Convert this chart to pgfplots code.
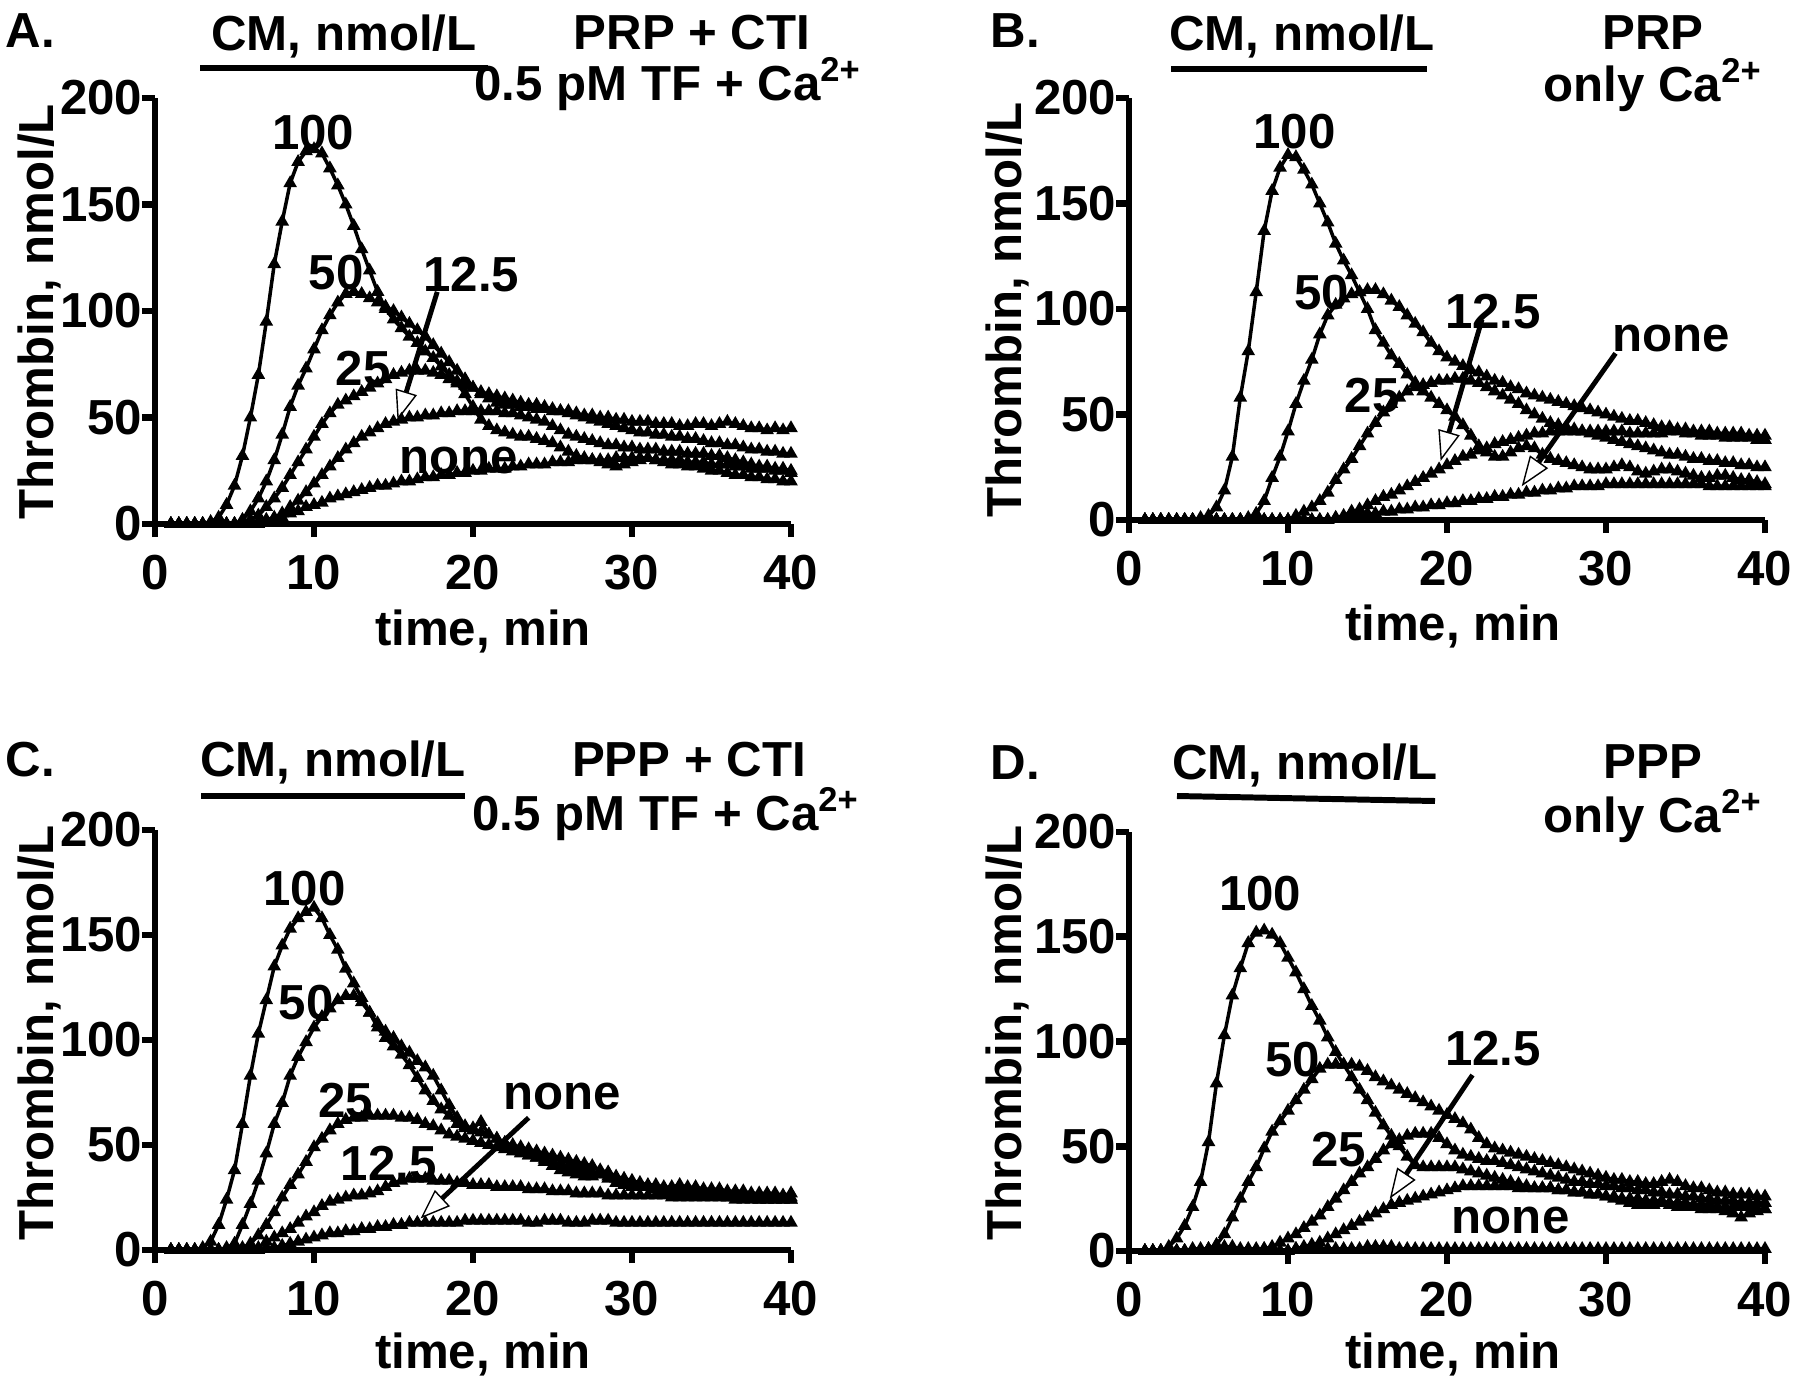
\documentclass[border=0pt]{standalone}
\usepackage{fontspec}
\setmainfont{Liberation Sans}
\usepackage{pgfplots}
\usepackage{pgfplotstable}
\pgfplotsset{compat=1.18}
\usetikzlibrary{arrows.meta}

\newcommand{\fs}{\fontsize{14}{16}\selectfont\bfseries}

% columns: t, CM=100, 50, 25, 12.5, none
\pgfplotstableread{
t a b c d e
1 0 0 0 0 0
1.5 0 0 0 0 0
2 0 0 0 0 0
2.5 0 0 0 0 0
3 0 0 0 0 0
3.5 1 0 0 0 0
4 3 0 0 0 0
4.5 9 0 0 0 0
5 18 0 0 0 0
5.5 32 2 1 0 0
6 50 6 2 0 0
6.5 70 12 4 1 0
7 95 20 8 2 1
7.5 122 30 12 3 2
8 142 42 17 5 3
8.5 160 55 23 8 5
9 170 65 29 11 6
9.5 175 73 35 15 8
10 176 82 41 19 9
10.5 174 91 47 23 10
11 167 98 52 27 12
11.5 159 104 56 31 13
12 150 108 58 35 14
12.5 140 109 60 38 15
13 129 108 62 41 16
13.5 119 106 64 43 17
14 109 104 66 45 18
14.5 101 102 68 47 18
15 96 100 70 48 19
15.5 92 97 71 49 20
16 88 94 72 50 20
16.5 85 91 72 50 21
17 81 88 72 51 22
17.5 78 84 71 51 22
18 74 80 70 52 23
18.5 70 76 68 52 23
19 66 72 67 53 24
19.5 61 68 65 53 24
20 55 64 64 53 25
20.5 49 61 62 53 25
21 46 59 61 53 26
21.5 44 57 60 53 26
22 43 56 59 52 26
22.5 42 56 58 52 27
23 41 55 57 51 27
23.5 41 55 56 50 28
24 40 54 56 49 28
24.5 39 54 55 48 28
25 38 53 54 46 29
25.5 36 53 53 44 29
26 34 52 53 42 29
26.5 32 51 52 41 30
27 31 50 51 40 30
27.5 30 49 51 39 30
28 29 48 50 38 30
28.5 28 47 50 37 30
29 27 46 49 37 31
29.5 28 45 49 36 31
30 29 44 48 36 31
30.5 30 43 48 35 31
31 31 43 48 35 31
31.5 30 42 47 35 30
32 29 42 47 34 30
32.5 28 41 47 34 30
33 28 41 46 34 30
33.5 27 40 46 33 29
34 27 40 47 33 29
34.5 26 39 47 33 29
35 25 38 46 32 28
35.5 25 38 47 32 28
36 24 37 48 31 28
36.5 23 37 47 30 27
37 23 36 46 29 27
37.5 22 35 45 28 26
38 22 35 45 27 26
38.5 21 34 44 27 26
39 21 34 45 26 25
39.5 20 33 44 26 25
40 20 33 45 25 24
}\tabA

\pgfplotstableread{
t a b c d e
1 0 0 0 0 0
1.5 0 0 0 0 0
2 0 0 0 0 0
2.5 0 0 0 0 0
3 0 0 0 0 0
3.5 0 0 0 0 0
4 0 0 0 0 0
4.5 1 0 0 0 0
5 2 0 0 0 0
5.5 6 0 0 0 0
6 14 0 0 0 0
6.5 30 0 0 0 0
7 58 0 0 0 0
7.5 80 1 0 0 0
8 108 3 0 0 0
8.5 137 9 0 0 0
9 156 20 0 0 0
9.5 167 30 0 0 0
10 173 42 0 0 0
10.5 172 55 2 0 0
11 166 66 4 0 0
11.5 159 76 6 0 0
12 150 88 9 0 0
12.5 141 97 13 0 0
13 131 102 19 1 1
13.5 123 105 24 2 1
14 116 107 29 4 2
14.5 108 108 35 5 2
15 100 109 41 7 3
15.5 90 109 46 9 3
16 84 107 51 11 4
16.5 78 104 55 12 4
17 74 101 58 14 5
17.5 69 97 61 16 5
18 65 93 63 18 6
18.5 61 89 64 20 6
19 58 84 65 22 7
19.5 55 80 66 24 7
20 52 77 66 26 8
20.5 49 75 67 28 8
21 45 73 67 30 9
21.5 40 71 66 31 9
22 35 70 65 33 10
22.5 32 68 63 34 10
23 30 66 61 36 11
23.5 30 65 59 37 11
24 32 63 57 38 12
24.5 34 62 55 39 12
25 35 60 52 40 13
25.5 34 59 50 41 13
26 31 58 48 41 14
26.5 29 57 46 42 14
27 28 56 45 42 15
27.5 27 55 44 42 15
28 26 54 43 42 16
28.5 25 53 42 42 16
29 24 52 41 42 16
29.5 24 51 40 42 16
30 24 50 39 42 17
30.5 25 49 38 42 17
31 26 48 37 42 17
31.5 25 47 36 41 17
32 23 47 35 41 17
32.5 22 46 34 41 17
33 23 45 33 41 17
33.5 24 44 32 41 17
34 24 44 31 42 17
34.5 23 43 31 42 17
35 22 43 30 41 17
35.5 21 42 29 41 17
36 20 42 29 40 17
36.5 20 42 28 40 16
37 21 41 28 40 16
37.5 21 41 27 39 16
38 20 41 27 39 16
38.5 19 41 26 39 16
39 19 40 26 39 16
39.5 18 40 25 38 16
40 17 40 25 38 16
}\tabB

\pgfplotstableread{
t a b c d e
1 0 0 0 0 0
1.5 0 0 0 0 0
2 0 0 0 0 0
2.5 0 0 0 0 0
3 1 0 0 0 0
3.5 4 0 0 0 0
4 12 0 0 0 0
4.5 24 1 0 0 0
5 38 3 0 0 0
5.5 60 12 1 0 0
6 83 22 3 0 0
6.5 103 33 7 1 0
7 119 46 12 4 1
7.5 135 60 18 6 1
8 145 70 25 8 2
8.5 153 83 31 10 3
9 158 92 36 13 4
9.5 161 99 42 16 5
10 163 106 49 18 6
10.5 158 111 53 21 7
11 150 115 57 23 8
11.5 143 119 60 24 8
12 134 121 62 25 9
12.5 127 121 63 26 9
13 120 118 63 26 10
13.5 113 113 64 27 10
14 106 108 64 28 11
14.5 101 104 64 30 11
15 97 101 64 32 12
15.5 93 97 63 33 12
16 88 94 63 34 13
16.5 82 90 62 34 13
17 76 87 60 34 13
17.5 71 83 59 33 13
18 67 76 57 33 13
18.5 64 69 55 33 13
19 60 63 54 32 13
19.5 58 59 53 32 14
20 57 58 52 31 14
20.5 56 61 51 31 14
21 55 55 50 31 14
21.5 53 53 49 30 14
22 51 51 48 30 14
22.5 49 50 47 30 14
23 47 49 46 30 14
23.5 45 48 45 29 13
24 44 47 44 29 13
24.5 42 46 43 29 14
25 40 45 42 28 14
25.5 38 44 41 28 14
26 37 43 40 28 13
26.5 36 42 39 27 13
27 35 41 38 27 13
27.5 35 40 37 27 14
28 36 38 36 27 14
28.5 34 37 35 26 14
29 32 35 34 26 13
29.5 31 34 33 26 13
30 30 33 32 26 13
30.5 30 32 31 26 13
31 30 31 30 26 13
31.5 29 31 29 26 13
32 29 30 28 26 13
32.5 29 30 28 25 13
33 30 31 27 25 13
33.5 29 30 27 25 13
34 28 30 27 25 13
34.5 28 29 26 25 13
35 28 29 26 25 13
35.5 27 29 26 25 13
36 27 28 25 25 13
36.5 27 28 25 24 13
37 26 28 25 24 13
37.5 26 27 25 24 13
38 26 27 24 24 13
38.5 25 27 24 24 13
39 25 27 24 24 13
39.5 25 26 24 24 13
40 25 27 24 24 13
}\tabC

\pgfplotstableread{
t a b c d e
1 0 0 0 0 0
1.5 0 0 0 0 0
2 0 0 0 0 0
2.5 2 0 0 0 0
3 6 0 0 0 0
3.5 12 0 0 0 0
4 21 0 0 0 1
4.5 33 0 0 0 1
5 52 1 0 0 1
5.5 80 3 0 0 1
6 103 8 0 0 2
6.5 122 16 0 0 2
7 135 25 0 0 1
7.5 147 33 0 0 1
8 152 40 0 0 1
8.5 153 49 1 0 1
9 151 57 2 0 1
9.5 147 62 4 0 0
10 140 67 6 0 0
10.5 133 72 8 1 1
11 125 77 11 2 1
11.5 117 82 14 3 1
12 110 87 17 4 1
12.5 102 89 21 6 1
13 95 89 25 8 1
13.5 89 89 29 10 1
14 83 89 33 12 1
14.5 77 88 37 14 1
15 72 86 40 16 2
15.5 66 83 44 18 2
16 60 81 48 20 2
16.5 55 79 51 22 2
17 50 77 53 23 1
17.5 45 75 55 24 1
18 41 73 56 25 1
18.5 40 71 56 26 1
19 40 69 56 27 1
19.5 40 67 54 28 1
20 40 65 51 29 1
20.5 40 63 48 30 1
21 39 61 46 31 1
21.5 38 58 45 31 1
22 37 54 44 31 1
22.5 36 51 43 31 1
23 35 49 43 31 1
23.5 34 48 42 31 1
24 33 47 41 31 1
24.5 32 46 40 30 1
25 31 45 39 30 1
25.5 30 44 38 30 1
26 30 43 37 30 1
26.5 30 42 36 30 1
27 29 41 35 29 1
27.5 29 40 34 29 1
28 28 39 33 28 1
28.5 28 38 33 28 1
29 27 37 32 27 1
29.5 27 36 32 27 1
30 26 35 31 26 1
30.5 25 34 31 26 1
31 24 34 30 25 1
31.5 23 33 30 25 1
32 22 33 29 25 1
32.5 22 32 29 24 1
33 22 32 28 24 1
33.5 23 33 28 24 1
34 22 34 27 23 1
34.5 21 33 27 23 1
35 21 31 26 23 1
35.5 21 30 26 22 1
36 20 30 25 22 1
36.5 20 29 25 22 1
37 20 28 24 21 1
37.5 19 28 24 21 1
38 18 27 24 21 1
38.5 16 27 23 21 1
39 18 27 23 21 1
39.5 19 26 23 20 1
40 20 26 23 20 1
}\tabD

\pgfplotsset{
  panel/.style={
    scale only axis, width=6.36cm,
    xmin=0, xmax=40, ymin=0, ymax=200,
    axis x line*=bottom, axis y line*=left,
    axis line style={line width=1.9pt, -},
    xtick={0,10,20,30,40}, ytick={0,50,100,150,200},
    tick align=outside, major tick length=0.13cm,
    tick style={line width=1.9pt, black},
    tick label style={font=\fs},
    /pgf/number format/assume math mode=true,
    xticklabel style={anchor=north, inner sep=0pt, yshift=-0.17cm},
    yticklabel style={anchor=east, inner sep=0pt, xshift=0.01cm},
    clip=false, anchor=origin,
  },
  curve/.style={black, line width=1.0pt, mark=triangle*, mark size=1.25pt,
    mark options={solid, fill=black}},
}
\tikzset{
  lab/.style={font=\fs, inner sep=0pt},
  arr/.style={line width=1.4pt, -{Triangle[length=0.30cm, width=0.22cm, fill=white, line width=0.4pt]}},
}

\begin{document}
\begin{tikzpicture}
\useasboundingbox (0,0) rectangle (18,-13.85);

% ---------------- Panel A
\begin{axis}[panel, at={(1.55cm,-5.24cm)}, height=4.26cm]
\addplot[curve] table[x=t, y=e] {\tabA};
\addplot[curve] table[x=t, y=d] {\tabA};
\addplot[curve] table[x=t, y=c] {\tabA};
\addplot[curve] table[x=t, y=b] {\tabA};
\addplot[curve] table[x=t, y=a] {\tabA};
\node[lab] at (axis cs:9.95,184) {100};
\node[lab] at (axis cs:11.4,118) {50};
\node[lab] at (axis cs:19.9,117) {12.5};
\node[lab] at (axis cs:13.1,73) {25};
\node[lab] at (axis cs:19.1,30) {none};
\draw[arr] (axis cs:17.75,109) -- (axis cs:15.25,48.6);
\end{axis}

% ---------------- Panel B
\begin{axis}[panel, at={(11.29cm,-5.20cm)}, height=4.22cm]
\addplot[curve] table[x=t, y=e] {\tabB};
\addplot[curve] table[x=t, y=d] {\tabB};
\addplot[curve] table[x=t, y=c] {\tabB};
\addplot[curve] table[x=t, y=b] {\tabB};
\addplot[curve] table[x=t, y=a] {\tabB};
\node[lab] at (axis cs:10.4,184) {100};
\node[lab] at (axis cs:12.1,108) {50};
\node[lab] at (axis cs:15.3,59) {25};
\node[lab] at (axis cs:22.9,99) {12.5};
\node[lab] at (axis cs:34.1,86) {none};
\draw[arr] (axis cs:22.2,95) -- (axis cs:19.6,28);
\draw[arr] (axis cs:30.6,79) -- (axis cs:24.7,16);
\end{axis}

% ---------------- Panel C
\begin{axis}[panel, at={(1.55cm,-12.50cm)}, height=4.20cm]
\addplot[curve] table[x=t, y=e] {\tabC};
\addplot[curve] table[x=t, y=d] {\tabC};
\addplot[curve] table[x=t, y=c] {\tabC};
\addplot[curve] table[x=t, y=b] {\tabC};
\addplot[curve] table[x=t, y=a] {\tabC};
\node[lab] at (axis cs:9.4,172) {100};
\node[lab] at (axis cs:9.5,118) {50};
\node[lab] at (axis cs:12,71) {25};
\node[lab] at (axis cs:14.7,41) {12.5};
\node[lab] at (axis cs:25.6,73) {none};
\draw[arr] (axis cs:23.5,63) -- (axis cs:16.7,15);
\end{axis}

% ---------------- Panel D
\begin{axis}[panel, at={(11.29cm,-12.51cm)}, height=4.19cm]
\addplot[curve] table[x=t, y=e] {\tabD};
\addplot[curve] table[x=t, y=d] {\tabD};
\addplot[curve] table[x=t, y=c] {\tabD};
\addplot[curve] table[x=t, y=b] {\tabD};
\addplot[curve] table[x=t, y=a] {\tabD};
\node[lab] at (axis cs:8.25,170.5) {100};
\node[lab] at (axis cs:10.3,91.4) {50};
\node[lab] at (axis cs:13.2,48.6) {25};
\node[lab] at (axis cs:22.9,96.7) {12.5};
\node[lab] at (axis cs:24,14.8) {none};
\draw[arr] (axis cs:21.6,84) -- (axis cs:16.4,25);
\end{axis}

% ---------------- texts around panels
\begin{scope}[every node/.style={font=\fs, inner sep=0pt}]
% A
\node[anchor=base west] at (0.05,-0.47) {A.};
\node[anchor=base] at (3.44,-0.50) {CM, nmol/L};
\draw[line width=1.7pt] (2.00,-0.68) -- (4.88,-0.68);
\node[anchor=base] at (6.92,-0.49) {PRP + CTI};
\node[anchor=base] at (6.68,-1.00) {0.5 pM TF + Ca\textsuperscript{2+}};
\node[anchor=base] at (4.83,-6.45) {time, min};
\node[anchor=base, rotate=90] at (0.53,-3.12) {Thrombin, nmol/L};
% B
\node[anchor=base west] at (9.90,-0.47) {B.};
\node[anchor=base] at (13.02,-0.50) {CM, nmol/L};
\draw[line width=1.7pt] (11.71,-0.69) -- (14.27,-0.69);
\node[anchor=base] at (16.53,-0.49) {PRP};
\node[anchor=base] at (16.53,-1.01) {only Ca\textsuperscript{2+}};
\node[anchor=base] at (14.53,-6.40) {time, min};
\node[anchor=base, rotate=90] at (10.21,-3.10) {Thrombin, nmol/L};
% C
\node[anchor=base west] at (0.05,-7.76) {C.};
\node[anchor=base] at (3.33,-7.76) {CM, nmol/L};
\draw[line width=1.7pt] (2.01,-7.96) -- (4.65,-7.96);
\node[anchor=base] at (6.89,-7.76) {PPP + CTI};
\node[anchor=base] at (6.66,-8.30) {0.5 pM TF + Ca\textsuperscript{2+}};
\node[anchor=base] at (4.83,-13.68) {time, min};
\node[anchor=base, rotate=90] at (0.53,-10.33) {Thrombin, nmol/L};
% D
\node[anchor=base west] at (9.90,-7.79) {D.};
\node[anchor=base] at (13.05,-7.79) {CM, nmol/L};
\draw[line width=1.7pt] (11.77,-7.96) -- (14.35,-8.01);
\node[anchor=base] at (16.53,-7.78) {PPP};
\node[anchor=base] at (16.53,-8.32) {only Ca\textsuperscript{2+}};
\node[anchor=base] at (14.53,-13.68) {time, min};
\node[anchor=base, rotate=90] at (10.21,-10.33) {Thrombin, nmol/L};
\end{scope}
\end{tikzpicture}
\end{document}
